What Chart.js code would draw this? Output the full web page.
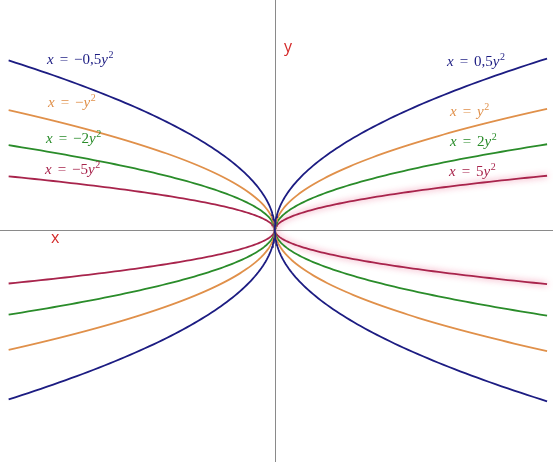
<!DOCTYPE html>
<html>
<head>
<meta charset="utf-8">
<script src="https://cdn.jsdelivr.net/npm/chart.js@4"></script>
<style>
  html,body{margin:0;padding:0;background:#fff;}
  #wrap{width:553px;height:462px;position:relative;}
</style>
</head>
<body>
<div id="wrap"><canvas id="c"></canvas></div>
<script>
// coefficients a of x = a*y^2, right branch (a>0) and left branch (a<0)
const coefRight = [0.5, 1, 2, 5];
const coefLeft = [-0.5, -1, -2, -5];
const labelsRight = ['x = 0,5y²', 'x = y²', 'x = 2y²', 'x = 5y²'];
const labelsLeft = ['x = −0,5y²', 'x = −y²', 'x = −2y²', 'x = −5y²'];
const colors = ['#1c1c82', '#e0904a', '#2a8c2a', '#a8244c'];
// where the branches stop on the x axis
const xEndRight = 5.04;
const xEndLeft = -4.93;
const nSamples = 160;

const xMin = -5.09, xMax = 5.15, yMin = -4.3, yMax = 4.26;

// label placement (pixels, left/middle)
const labelPosLeft = [[47,60],[48,103],[46,139],[45,170]];
const labelPosRight = [[447,62],[450,112],[450,142],[449,172]];

function branch(a, xEnd){
  const ym = Math.sqrt(xEnd / a);
  const pts = [];
  for(let i=0;i<=nSamples;i++){
    const y = -ym + 2*ym*i/nSamples;
    pts.push({x:a*y*y, y});
  }
  return pts;
}

const datasets = [];
coefRight.forEach((a,i)=>datasets.push({data:branch(a,xEndRight), borderColor:colors[i], glow:i===3}));
coefLeft.forEach((a,i)=>datasets.push({data:branch(a,xEndLeft), borderColor:colors[i]}));
datasets.forEach(d=>{ d.showLine=true; d.pointRadius=0; d.borderWidth=1.8; d.tension=0; });

// math-ish label: x,y italic, rest upright, ² as small raised 2
function mathText(ctx, str, x, y){
  const serif = '"Liberation Serif"';
  for(const ch of str){
    if(ch==='²'){
      ctx.font = '10px ' + serif;
      ctx.fillText('2', x+0.5, y-5);
      x += ctx.measureText('2').width + 0.5;
      continue;
    }
    if(ch===' '){ x += 6; continue; }
    ctx.font = (ch==='x'||ch==='y' ? 'italic ' : '') + '15px ' + serif;
    ctx.fillText(ch, x, y);
    x += ctx.measureText(ch).width;
  }
}

const extras = {
  id:'extras',
  beforeDatasetsDraw(chart){
    const {ctx, scales:{x,y}, chartArea:a} = chart;
    ctx.save();
    ctx.strokeStyle='#8a8a8a'; ctx.lineWidth=1;
    const x0 = Math.round(x.getPixelForValue(0))+0.5, y0 = Math.round(y.getPixelForValue(0))+0.5;
    ctx.beginPath();
    ctx.moveTo(a.left,y0); ctx.lineTo(a.right,y0);
    ctx.moveTo(x0,a.top); ctx.lineTo(x0,a.bottom);
    ctx.stroke();
    ctx.restore();
  },
  beforeDatasetDraw(chart,args){
    const ds = chart.data.datasets[args.index];
    if(ds.glow){
      chart.ctx.save();
      chart.ctx.shadowColor='rgba(230,60,110,0.75)';
      chart.ctx.shadowBlur=6;
    }
  },
  afterDatasetDraw(chart,args){
    if(chart.data.datasets[args.index].glow) chart.ctx.restore();
  },
  afterDraw(chart){
    const ctx = chart.ctx;
    ctx.save();
    ctx.textBaseline='middle'; ctx.textAlign='left';
    labelsLeft.forEach((t,i)=>{ ctx.fillStyle=colors[i]; mathText(ctx,t,labelPosLeft[i][0],labelPosLeft[i][1]); });
    labelsRight.forEach((t,i)=>{ ctx.fillStyle=colors[i]; mathText(ctx,t,labelPosRight[i][0],labelPosRight[i][1]); });
    ctx.font='16px "Open Sans"';
    ctx.fillStyle='#d42a2a';
    ctx.fillText('y',284,47);
    ctx.fillText('x',51,238);
    ctx.restore();
  }
};

new Chart(document.getElementById('c'),{
  type:'scatter',
  data:{datasets},
  options:{
    responsive:true, maintainAspectRatio:false, animation:false,
    layout:{padding:0},
    scales:{
      x:{type:'linear', min:xMin, max:xMax, display:false},
      y:{type:'linear', min:yMin, max:yMax, display:false}
    },
    plugins:{legend:{display:false}, tooltip:{enabled:false}}
  },
  plugins:[extras]
});
</script>
</body>
</html>
